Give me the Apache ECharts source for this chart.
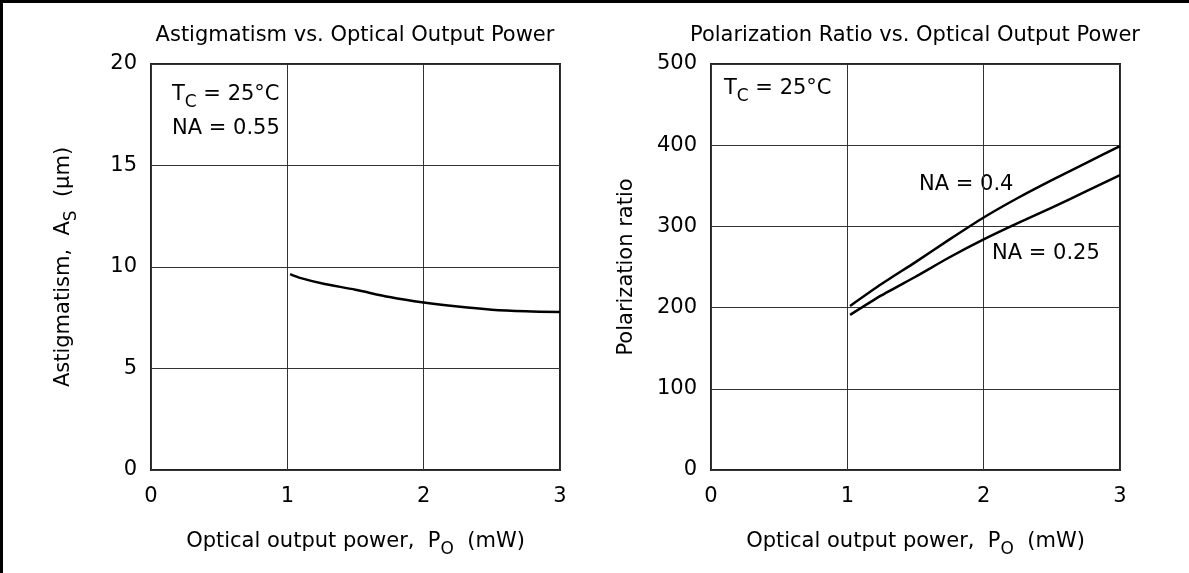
<!DOCTYPE html>
<html><head><meta charset="utf-8">
<script src="https://cdn.jsdelivr.net/npm/echarts@6/dist/echarts.min.js"></script>
<style>html,body{margin:0;padding:0;background:#fff}#c{width:1189px;height:573px}</style>
</head><body><div id="c"></div>
<script>
var xTicks = [0, 1, 2, 3];
var astigYTicks = [0, 5, 10, 15, 20];
var polYTicks = [0, 100, 200, 300, 400, 500];
var astigX = [1.02, 1.1, 1.25, 1.5, 1.75, 2.0, 2.25, 2.5, 2.75, 3.0];
var astigY = [9.65, 9.45, 9.2, 8.88, 8.52, 8.25, 8.05, 7.9, 7.82, 7.78];
var polX = [1.02, 1.25, 1.5, 1.75, 2.0, 2.25, 2.5, 2.75, 3.0];
var na04 = [202, 229, 256, 284, 311, 335, 357, 378, 399];
var na025 = [191, 215, 238, 262, 284, 304, 323, 343, 363];

var FONT = '"DejaVu Sans", "Liberation Sans", sans-serif';
var FS = 21;
function pairs(xs, ys) { return xs.map(function (x, i) { return [x, ys[i]]; }); }
var subRich = { sub: { fontSize: 17, fontFamily: FONT, color: '#000', padding: [16, 0, 0, 0] } };

function xAxis(gi) {
  return {
    type: 'value', gridIndex: gi, min: xTicks[0], max: xTicks[xTicks.length - 1], interval: 1,
    axisLine: { show: false }, axisTick: { show: false },
    axisLabel: { color: '#000', fontSize: FS, fontFamily: FONT, margin: 16 },
    splitLine: { show: true, lineStyle: { color: '#333', width: 1 } },
    name: 'Optical output power,  P{sub|O}  (mW)', nameLocation: 'middle', nameGap: 55,
    nameTextStyle: { color: '#000', fontSize: FS, fontFamily: FONT, rich: subRich }
  };
}
function yAxis(gi, ticks, name, gap) {
  return {
    type: 'value', gridIndex: gi, min: ticks[0], max: ticks[ticks.length - 1], interval: ticks[1] - ticks[0],
    axisLine: { show: false }, axisTick: { show: false },
    axisLabel: { color: '#000', fontSize: FS, fontFamily: FONT, margin: 14, padding: [4, 0, 0, 0] },
    splitLine: { show: true, lineStyle: { color: '#333', width: 1 } },
    name: name, nameLocation: 'middle', nameGap: gap, nameRotate: 90,
    nameTextStyle: { color: '#000', fontSize: FS, fontFamily: FONT, rich: subRich }
  };
}
function txt(x, y, t, align) {
  return { type: 'text', x: x, y: y, silent: true,
    style: { text: t, fill: '#000', font: FS + 'px ' + FONT, align: align || 'left', verticalAlign: 'middle',
      textAlign: align || 'left', textVerticalAlign: 'middle', rich: subRich } };
}
var chart = echarts.init(document.getElementById('c'), null, { renderer: 'canvas' });
chart.setOption({
  animation: false,
  backgroundColor: '#fff',
  grid: [
    { left: 151, top: 64, width: 409, height: 406, show: true, borderColor: '#222', borderWidth: 2, backgroundColor: 'transparent' },
    { left: 711, top: 64, width: 409, height: 406, show: true, borderColor: '#222', borderWidth: 2, backgroundColor: 'transparent' }
  ],
  xAxis: [xAxis(0), xAxis(1)],
  yAxis: [
    yAxis(0, astigYTicks, 'Astigmatism,  A{sub|S}  (\u03bcm)', 71),
    yAxis(1, polYTicks, 'Polarization ratio', 74)
  ],
  series: [
    { type: 'line', xAxisIndex: 0, yAxisIndex: 0, data: pairs(astigX, astigY), showSymbol: false, smooth: 0.3,
      lineStyle: { color: '#000', width: 2.5 } },
    { type: 'line', xAxisIndex: 1, yAxisIndex: 1, data: pairs(polX, na04), showSymbol: false, smooth: 0.2,
      lineStyle: { color: '#000', width: 2.5 } },
    { type: 'line', xAxisIndex: 1, yAxisIndex: 1, data: pairs(polX, na025), showSymbol: false, smooth: 0.2,
      lineStyle: { color: '#000', width: 2.5 } }
  ],
  graphic: [
    { type: 'rect', shape: { x: 0, y: 0, width: 1189, height: 3 }, style: { fill: '#000' }, silent: true },
    { type: 'rect', shape: { x: 0, y: 0, width: 3, height: 573 }, style: { fill: '#000' }, silent: true },
    txt(355, 36, 'Astigmatism vs. Optical Output Power', 'center'),
    txt(915, 36, 'Polarization Ratio vs. Optical Output Power', 'center'),
    txt(172, 95, 'T{sub|C} = 25\u00b0C'),
    txt(172, 129, 'NA = 0.55'),
    txt(724, 89, 'T{sub|C} = 25\u00b0C'),
    txt(919, 185, 'NA = 0.4'),
    txt(992, 254, 'NA = 0.25')
  ]
});
</script></body></html>
